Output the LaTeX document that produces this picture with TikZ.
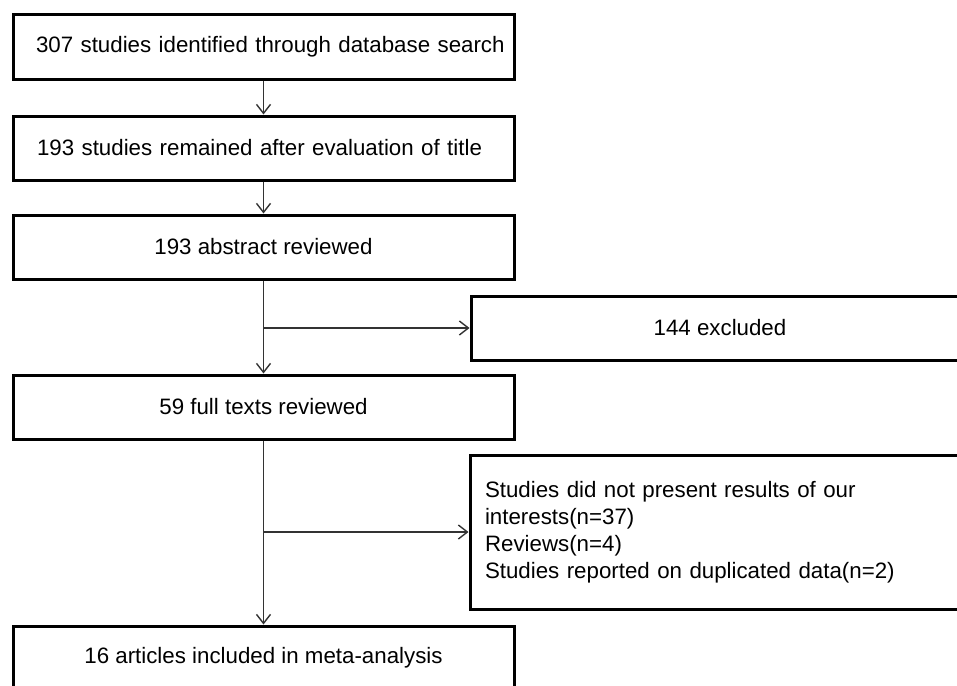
\documentclass[tikz,border=0pt]{standalone}
\usepackage{fontspec}
\setmainfont{Liberation Sans}
\usetikzlibrary{arrows.meta}
\begin{document}
\begin{tikzpicture}[x=1pt,y=-1pt,
  box/.style={draw=black,line width=3pt,minimum width=501pt,minimum height=64pt,inner sep=0pt,font=\fontsize{22.3}{27}\selectfont,fill=white},
  lbox/.style={box,text width=490pt,align=left},
  ebox/.style={draw=black,line width=3pt,minimum width=498pt,inner sep=0pt,font=\fontsize{22.3}{27}\selectfont},
  arr/.style={draw=black!80,line width=1.4pt,-{Straight Barb[length=9pt,width=14pt,line width=1.4pt]}}]
\useasboundingbox (0,0) rectangle (957,685);
\clip (0,0) rectangle (957,685);
\fill[white] (0,0) rectangle (957,685);
\node[lbox] (b1) at (263.5,47) {\hspace*{17.5pt}307 studies identified through database search};
\node[lbox] (b2) at (263.5,148) {\hspace*{18.5pt}193 studies remained after evaluation of title};
\node[box] (b3) at (263.5,247) {193 abstract reviewed};
\node[box] (b4) at (263.5,407) {59 full texts reviewed};
\node[box] (b5) at (263.5,658) {16 articles included in meta-analysis};
\node[ebox,minimum height=64pt] (e1) at (720,328) {144 excluded};
\node[ebox,minimum height=154pt,text width=468pt,align=left,inner xsep=15pt] (e2) at (719,532) {Studies did not present results of our\\interests(n=37)\\Reviews(n=4)\\Studies reported on duplicated data(n=2)};
\coordinate (j1) at (b3.south |- e1.west);
\coordinate (j2) at (b4.south |- e2.west);
\draw[arr] (b1) -- (b2);
\draw[arr] (b2) -- (b3);
\draw[arr] (b3) -- (b4);
\draw[arr] (j1) -- (e1);
\draw[arr] (b4) -- (b5);
\draw[arr] (j2) -- (e2);
\end{tikzpicture}
\end{document}
